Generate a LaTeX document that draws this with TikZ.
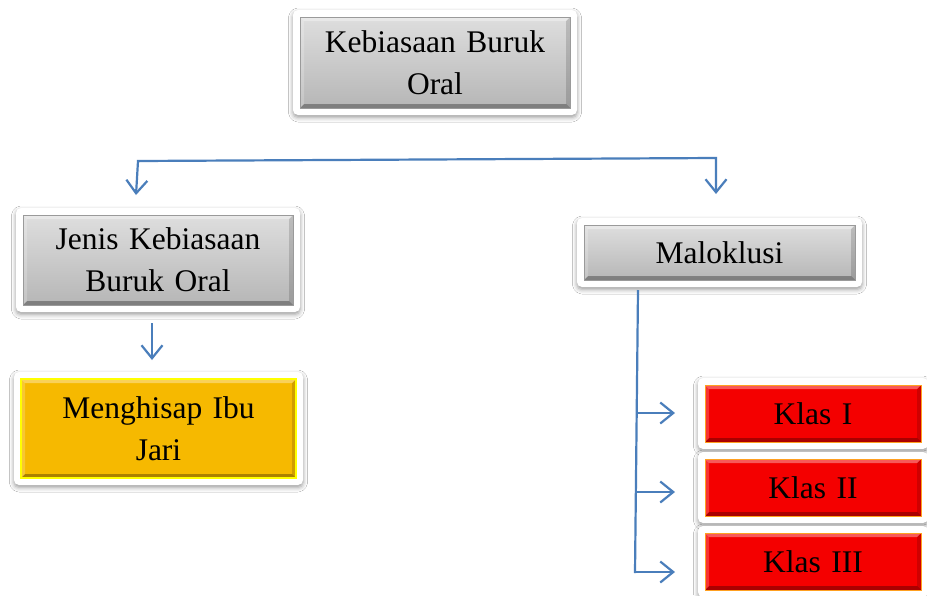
\documentclass[tikz,border=0pt]{standalone}
\usepackage{fontspec}
\setmainfont{Liberation Serif}
\usetikzlibrary{arrows.meta,shadows.blur}
\definecolor{conn}{HTML}{4A7EBB}
\definecolor{gtop}{HTML}{DEDEDE}
\definecolor{gbot}{HTML}{B6B6B6}
\definecolor{gedge}{HTML}{9A9A9A}
\definecolor{yfill}{HTML}{F6B900}
\definecolor{yedge}{HTML}{FFFF00}
\definecolor{rfill}{HTML}{F40000}
\definecolor{redge}{HTML}{FFA020}
\tikzset{
  frame/.style={fill=white, rounded corners=5pt,
    blur shadow={shadow xshift=0pt, shadow yshift=-2.5pt, shadow blur radius=4.5pt, shadow opacity=40}},
  bevel/.style={path picture={
    \fill[black,opacity=.30] (path picture bounding box.south west) -- (path picture bounding box.south east)
      -- ([shift={(-4pt,4pt)}]path picture bounding box.south east) -- ([shift={(4pt,4pt)}]path picture bounding box.south west) -- cycle;
    \fill[black,opacity=.15] (path picture bounding box.south east) -- (path picture bounding box.north east)
      -- ([shift={(-4pt,-4pt)}]path picture bounding box.north east) -- ([shift={(-4pt,4pt)}]path picture bounding box.south east) -- cycle;
    \fill[white,opacity=.35] (path picture bounding box.north west) -- (path picture bounding box.north east)
      -- ([shift={(-4pt,-4pt)}]path picture bounding box.north east) -- ([shift={(4pt,-4pt)}]path picture bounding box.north west) -- cycle;
    \fill[white,opacity=.20] (path picture bounding box.south west) -- (path picture bounding box.north west)
      -- ([shift={(4pt,-4pt)}]path picture bounding box.north west) -- ([shift={(4pt,4pt)}]path picture bounding box.south west) -- cycle;
  }},
  boxbase/.style={align=center, inner sep=0pt, font=\fontsize{31.5}{42}\selectfont, bevel},
  graybox/.style={boxbase, top color=gtop, bottom color=gbot, draw=gedge, line width=0.6pt},
  yellowbox/.style={boxbase, fill=yfill, draw=yedge, line width=1.6pt},
  redbox/.style={boxbase, fill=rfill, draw=redge, line width=0.8pt},
  conline/.style={draw=conn, line width=2.2pt},
  arr/.style={-{Straight Barb[length=13pt,width=21pt,line width=2.2pt]}},
  arrboth/.style={{Straight Barb[length=13pt,width=21pt,line width=2.2pt]}-{Straight Barb[length=13pt,width=21pt,line width=2.2pt]}}
}
\newcommand\mkbox[7]{%
  \fill[frame] ({#2-#4/2-7},{#3-#5/2-7}) rectangle ({#2+#4/2+7},{#3+#5/2+7});
  \node[#6, minimum width=#4pt, minimum height=#5pt, text width=#4pt] (#1) at (#2,#3) {#7};}
\begin{document}
\begin{tikzpicture}[x=1pt,y=-1pt]
\useasboundingbox (0,0) rectangle (927,595);
\fill[white] (0,0) rectangle (927,595);

\mkbox{top}{435}{62.5}{270}{91}{graybox}{Kebiasaan Buruk\\Oral}
\mkbox{jenis}{158}{260}{270}{90}{graybox}{Jenis Kebiasaan\\Buruk Oral}
\mkbox{hisap}{158.5}{428.5}{275}{99}{yellowbox}{Menghisap Ibu\\Jari}
\mkbox{malo}{719.5}{252.5}{271}{55}{graybox}{Maloklusi}
\mkbox{k1}{813}{413.5}{216}{57}{redbox}{Klas I}
\mkbox{k2}{813}{487.5}{216}{57}{redbox}{Klas II}
\mkbox{k3}{813}{561.5}{216}{57}{redbox}{Klas III}

% top branching connector
\coordinate (ltip) at (136,195);
\coordinate (lcor) at (138,161);
\coordinate (rcor) at (716,158);
\coordinate (rtip) at (716,194);
\draw[conline,arrboth] (ltip) -- (lcor) -- (rcor) -- (rtip);

% Jenis -> Menghisap
\coordinate (js) at (152,323);
\coordinate (je) at (152,360);
\draw[conline,arr] (js) -- (je);

% Maloklusi branches
\coordinate (mtop) at (638,290);
\coordinate (mbot) at (635,573);
\draw[conline] (mtop) -- (mbot);
\coordinate (b1) at (637.5,413);
\coordinate (b2) at (636.5,492);
\coordinate (b3) at (635,572);
\coordinate (t1) at (675,413);
\coordinate (t2) at (675,492);
\coordinate (t3) at (675,572);
\draw[conline,arr] (b1) -- (t1);
\draw[conline,arr] (b2) -- (t2);
\draw[conline,arr] (b3) -- (t3);
\end{tikzpicture}
\end{document}
